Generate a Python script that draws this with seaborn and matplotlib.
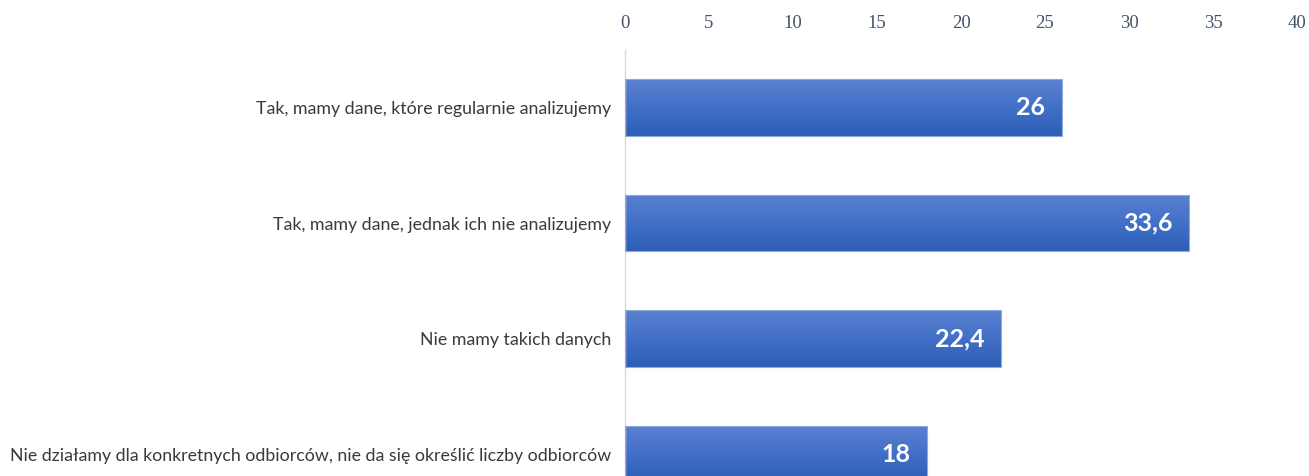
import numpy as np
import pandas as pd
import matplotlib
matplotlib.use("Agg")
import matplotlib.pyplot as plt
from matplotlib.colors import LinearSegmentedColormap
import seaborn as sns

categories = [
    "Tak, mamy dane, które regularnie analizujemy",
    "Tak, mamy dane, jednak ich nie analizujemy",
    "Nie mamy takich danych",
    "Nie działamy dla konkretnych odbiorców, nie da się określić liczby odbiorców",
]
values = [26, 33.6, 22.4, 18]
value_labels = ["26", "33,6", "22,4", "18"]
ticks = [0, 5, 10, 15, 20, 25, 30, 35, 40]

df = pd.DataFrame({"kategoria": categories, "procent": values})

sns.set_style("white")
plt.rcParams["font.family"] = ["Lato", "DejaVu Sans"]

fig = plt.figure(figsize=(13.09, 4.76), dpi=100)
ax = fig.add_axes([0.4775, 0.0, 0.5133, 0.895])

sns.barplot(data=df, x="procent", y="kategoria", orient="h", width=0.49,
            color="#4472c4", edgecolor="#8eaadb", linewidth=0.8, ax=ax)

# gradient fill inside each bar
grad = LinearSegmentedColormap.from_list("g", ["#5b80d0", "#4270c8", "#2e5eb6"])
for p in ax.patches:
    x0, y0 = p.get_x(), p.get_y()
    w, h = p.get_width(), p.get_height()
    img = ax.imshow(np.linspace(0, 1, 100).reshape(-1, 1), cmap=grad, aspect="auto",
                    extent=[x0, x0 + w, y0 + h, y0], origin="upper", zorder=2)
    img.set_clip_path(p)
    p.set_zorder(3)
    p.set_facecolor("none")

for i, (v, lab) in enumerate(zip(values, value_labels)):
    ax.text(v - 1.0, i, lab, ha="right", va="center", color="white",
            fontsize=18, fontweight="bold", zorder=4)

ax.set_xlim(0, 40)
ax.set_ylim(3.19, -0.5)
ax.xaxis.tick_top()
ax.set_xticks(ticks)
ax.set_xticklabels([str(t) for t in ticks], family=["Liberation Serif"],
                   fontsize=13.5, color="#44546a")
ax.tick_params(axis="x", length=0, pad=13)
ax.tick_params(axis="y", length=0, pad=10)
for lbl in ax.get_yticklabels():
    lbl.set_fontsize(12.8)
    lbl.set_color("#3a3a3a")
ax.set_xlabel("")
ax.set_ylabel("")
for s in ["top", "right", "bottom"]:
    ax.spines[s].set_visible(False)
ax.spines["left"].set_color("#d9d9d9")
ax.spines["left"].set_linewidth(1)

fig.savefig("out.png", dpi=100)
